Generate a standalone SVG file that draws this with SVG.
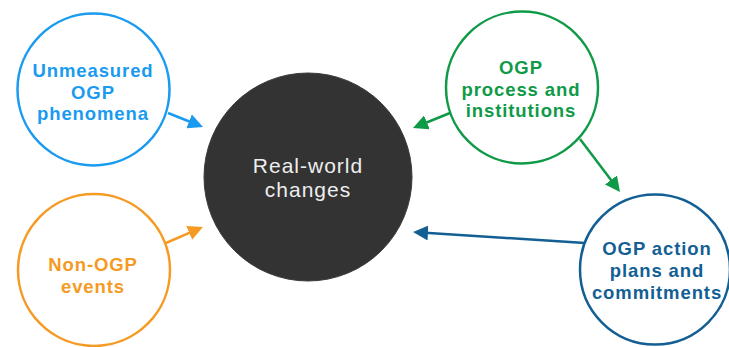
<svg xmlns="http://www.w3.org/2000/svg" width="729" height="347" viewBox="0 0 729 347">
<style>
  .ring { fill: #ffffff; stroke-width: 2.5; }
  .lbl { font-family: "Liberation Sans", Arial, sans-serif; font-weight: bold; font-size: 18.5px; letter-spacing: 0.9px; text-anchor: middle; }
  .ctr { font-family: "Liberation Sans", Arial, sans-serif; font-size: 21px; letter-spacing: 1px; text-anchor: middle; fill: #eeeeee; }
  .conn { fill: none; stroke-width: 2.5; }
</style>
<defs>
  <marker id="ah-blue" markerUnits="userSpaceOnUse" viewBox="0 0 15 15" markerWidth="15" markerHeight="15" refX="7" refY="7.5" orient="auto"><path d="M0,0 L15,7.5 L0,15 z" fill="#1a9bf0"/></marker>
  <marker id="ah-orange" markerUnits="userSpaceOnUse" viewBox="0 0 15 15" markerWidth="15" markerHeight="15" refX="7" refY="7.5" orient="auto"><path d="M0,0 L15,7.5 L0,15 z" fill="#f59a23"/></marker>
  <marker id="ah-green" markerUnits="userSpaceOnUse" viewBox="0 0 15 15" markerWidth="15" markerHeight="15" refX="7" refY="7.5" orient="auto"><path d="M0,0 L15,7.5 L0,15 z" fill="#0f9a48"/></marker>
  <marker id="ah-navy" markerUnits="userSpaceOnUse" viewBox="0 0 15 15" markerWidth="15" markerHeight="15" refX="7" refY="7.5" orient="auto"><path d="M0,0 L15,7.5 L0,15 z" fill="#135f94"/></marker>
</defs>
<rect width="729" height="347" fill="#ffffff"/>
<g id="connectors">
  <line class="conn" x1="168" y1="113" x2="195.6" y2="124" stroke="#1a9bf0" marker-end="url(#ah-blue)"/>
  <line class="conn" x1="166" y1="243" x2="195.6" y2="230.2" stroke="#f59a23" marker-end="url(#ah-orange)"/>
  <line class="conn" x1="450" y1="113" x2="420.4" y2="125" stroke="#0f9a48" marker-end="url(#ah-green)"/>
  <line class="conn" x1="580" y1="139" x2="615.2" y2="185.6" stroke="#0f9a48" marker-end="url(#ah-green)"/>
  <line class="conn" x1="585" y1="243" x2="421" y2="232.5" stroke="#135f94" marker-end="url(#ah-navy)"/>
</g>
<g id="real-world">
  <circle cx="308" cy="177" r="104" fill="#333333" stroke="#3a3a3a" stroke-width="1"/>
  <text class="ctr" x="308" y="173">Real-world</text>
  <text class="ctr" x="308" y="197">changes</text>
</g>
<g id="unmeasured">
  <circle class="ring" cx="93.5" cy="89.5" r="76" stroke="#1a9bf0"/>
  <text class="lbl" x="93" y="77" fill="#1a9bf0">Unmeasured</text>
  <text class="lbl" x="93" y="98.5" fill="#1a9bf0">OGP</text>
  <text class="lbl" x="93" y="120" fill="#1a9bf0">phenomena</text>
</g>
<g id="non-ogp">
  <circle class="ring" cx="94" cy="270" r="76" stroke="#f59a23"/>
  <text class="lbl" x="93" y="271" fill="#f59a23">Non-OGP</text>
  <text class="lbl" x="93" y="292.5" fill="#f59a23">events</text>
</g>
<g id="process">
  <circle class="ring" cx="522" cy="87.5" r="76" stroke="#0f9a48"/>
  <text class="lbl" x="521" y="74" fill="#0f9a48">OGP</text>
  <text class="lbl" x="521" y="95.5" fill="#0f9a48">process and</text>
  <text class="lbl" x="521" y="117" fill="#0f9a48">institutions</text>
</g>
<g id="action-plans">
  <circle class="ring" cx="655" cy="269.5" r="75" stroke="#135f94"/>
  <text class="lbl" x="657" y="255" fill="#135f94">OGP action</text>
  <text class="lbl" x="657" y="277" fill="#135f94">plans and</text>
  <text class="lbl" x="657" y="299" fill="#135f94">commitments</text>
</g>
</svg>
